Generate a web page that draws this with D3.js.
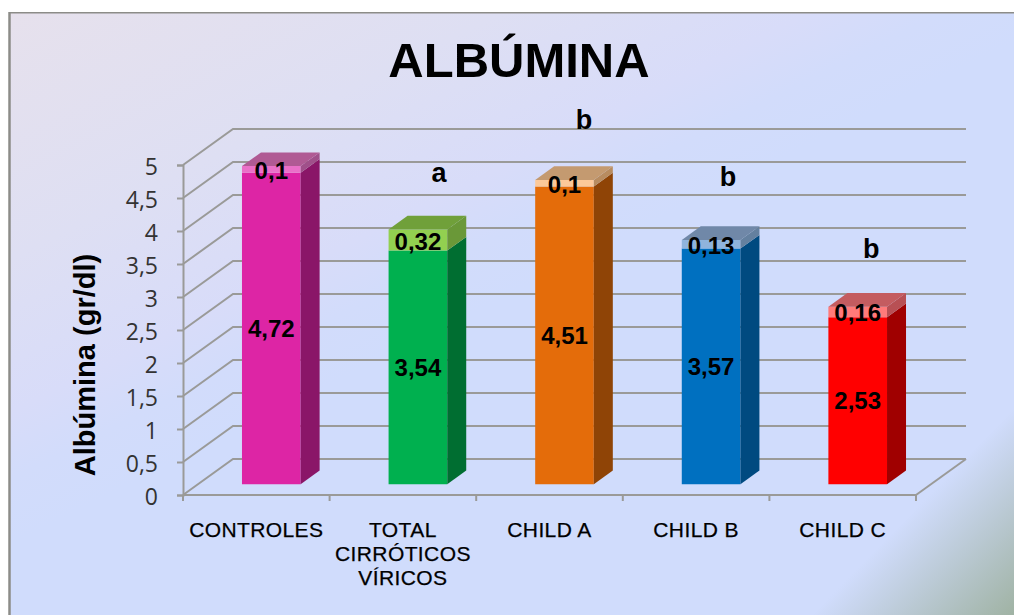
<!DOCTYPE html>
<html><head><meta charset="utf-8">
<script src="https://cdn.jsdelivr.net/npm/d3@7/dist/d3.min.js"></script>
<style>html,body{margin:0;padding:0;background:#fff}svg{display:block}text{font-family:"Liberation Sans",Arial,sans-serif;fill:#000}</style>
</head><body><svg id="c" width="1014" height="615"></svg>
<script>
// Albumin means by patient group, with the standard deviation stacked on top
const categories = ["CONTROLES", "TOTAL|CIRRÓTICOS|VÍRICOS", "CHILD A", "CHILD B", "CHILD C"];
const means = [4.72, 3.54, 4.51, 3.57, 2.53];
const deviations = [0.1, 0.32, 0.1, 0.13, 0.16];
const significance = ["", "a", "b", "b", "b"];
const yTicks = [0, 0.5, 1, 1.5, 2, 2.5, 3, 3.5, 4, 4.5, 5];
const frontColors = ["#dd25a5", "#00b04f", "#e46c0a", "#0070c0", "#ff0000"];
const sideColors = ["#8a1668", "#006e31", "#8f4406", "#004a80", "#a00000"];
const capColors = ["#ea70c8", "#92d050", "#fcc99a", "#8fb4dc", "#ff7a7a"];
const capTopColors = ["#b05a94", "#70a03a", "#c49a70", "#7088a8", "#c45c60"];
const capSideColors = ["#a0508a", "#6a9838", "#b88c60", "#64809f", "#b85054"];

const fmt = v => String(v).replace(".", ",");
const svg = d3.select("#c");

// Page background: a lavender-to-blue wash plus a grey-green corner
const defs = svg.append("defs");
const wash = defs.append("linearGradient").attr("id", "wash")
  .attr("gradientUnits", "userSpaceOnUse")
  .attr("x1", 0).attr("y1", 0).attr("x2", 220).attr("y2", 440);
[[0, "#e7e1ec"], [0.48, "#dedff3"], [0.76, "#d8dcf9"], [0.88, "#d2dcfb"], [1, "#d0dcfc"]]
  .forEach(([o, c]) => wash.append("stop").attr("offset", o).attr("stop-color", c));
const corner = defs.append("linearGradient").attr("id", "corner")
  .attr("gradientUnits", "userSpaceOnUse")
  .attr("x1", 60).attr("y1", -60).attr("x2", 900).attr("y2", 760);
[[0.86, 0], [0.985, 1]].forEach(([o, a]) => corner.append("stop").attr("offset", o)
  .attr("stop-color", "#9fb2a2").attr("stop-opacity", a));
[["url(#wash)"], ["url(#corner)"]].forEach(([f]) => svg.append("rect")
  .attr("x", 9).attr("y", 13).attr("width", 1005).attr("height", 602).attr("fill", f));
svg.append("line").attr("x1", 9.5).attr("x2", 9.5).attr("y1", 12).attr("y2", 615).attr("stroke", "#8c8c88").attr("stroke-width", 2.5);
svg.append("line").attr("x1", 9).attr("x2", 1014).attr("y1", 12.7).attr("y2", 12.7).attr("stroke", "#8c8c88").attr("stroke-width", 1.4);

// Oblique projection: a point at a given depth shifts right and up
const depthX = 50, depthY = 36;
const x = d3.scaleBand().domain(categories).range([183, 916]).paddingInner(0.6).paddingOuter(0.3);
const y = d3.scaleLinear().domain([0, 5]).range([495, 165]);
const px = (xv, depth) => xv + depth * depthX;
const py = (v, depth) => y(v) - depth * depthY;
const barFront = 0.3, barBack = 0.68;
const gridColor = "#9a9a98";

// Walls and floor
const grid = svg.append("g").attr("fill", "none").attr("stroke", gridColor).attr("stroke-width", 2);
yTicks.forEach(t => {
  grid.append("path").attr("d", d3.line()([[183, y(t)], [px(183, 1), py(t, 1)], [px(916, 1), py(t, 1)]]));
});
grid.append("path").attr("d", d3.line()([[px(916, 1), py(0, 1)], [916, y(0)]]));

// Value axis
const yAxis = svg.append("g").attr("transform", "translate(183,0)")
  .call(d3.axisLeft(y).tickValues(yTicks).tickSize(6).tickPadding(19).tickFormat(fmt));
yAxis.selectAll("line,path").attr("stroke", gridColor).attr("stroke-width", 2);
yAxis.selectAll("text").attr("dy", "0.42em")
  .style("font-size", "23px").style("font-family", '"Open Sans",sans-serif').style("fill", "#333");

// Category axis: tick marks sit on the band edges, labels wrap over several lines
const bandStep = x.step();
svg.append("path").attr("d", d3.line()([[183, 495], [916, 495]])).attr("stroke", gridColor).attr("stroke-width", 2);
d3.range(categories.length + 1).forEach(i => {
  svg.append("line").attr("x1", 183 + i * bandStep).attr("x2", 183 + i * bandStep)
    .attr("y1", 495).attr("y2", 501).attr("stroke", gridColor).attr("stroke-width", 2);
});
categories.forEach(c => {
  const t = svg.append("text").attr("text-anchor", "middle").style("font-size", "21px")
    .style("letter-spacing", "0.4px").style("stroke", "#000").style("stroke-width", "0.25px");
  c.split("|").forEach((line, j) => {
    t.append("tspan").attr("x", x(c) + x.bandwidth() / 2).attr("y", 537 + j * 24).text(line);
  });
});

// One 3D stacked column per group
const poly = (g, pts, fill) => g.append("polygon").attr("points", pts.map(p => p.join(",")).join(" ")).attr("fill", fill);
const letterNudge = [null, [21, 3], [19.5, -1], [17, -4], [13.5, 1]];
categories.forEach((c, i) => {
  const g = svg.append("g");
  const l = px(x(c), barFront), r = l + x.bandwidth();
  const dx = (barBack - barFront) * depthX;
  const m = means[i], t = means[i] + deviations[i];
  const yf = v => py(v, barFront), yb = v => py(v, barBack);
  poly(g, [[l, yf(0)], [r, yf(0)], [r, yf(m)], [l, yf(m)]], frontColors[i]);
  poly(g, [[r, yf(0)], [r + dx, yb(0)], [r + dx, yb(m)], [r, yf(m)]], sideColors[i]);
  poly(g, [[l, yf(m)], [r, yf(m)], [r, yf(t)], [l, yf(t)]], capColors[i]);
  poly(g, [[r, yf(m)], [r + dx, yb(m)], [r + dx, yb(t)], [r, yf(t)]], capSideColors[i]);
  poly(g, [[l, yf(t)], [r, yf(t)], [r + dx, yb(t)], [l + dx, yb(t)]], capTopColors[i]);

  const cx = (l + r) / 2;
  const label = (txt, yy) => svg.append("text").attr("x", cx).attr("y", yy).attr("text-anchor", "middle")
    .attr("dominant-baseline", "central").style("font-size", "24px").style("font-weight", "bold").text(txt);
  label(fmt(m), yf(m / 2));
  label(fmt(deviations[i]), yf(m + deviations[i] / 2) + 1);
  if (significance[i]) {
    svg.append("text").attr("x", cx + letterNudge[i][0]).attr("y", yf(t) - 50 + letterNudge[i][1])
      .attr("text-anchor", "middle").style("font-size", "27px").style("font-weight", "bold").text(significance[i]);
  }
});

// Title and value-axis label
svg.append("text").attr("x", 519).attr("y", 77).attr("text-anchor", "middle")
  .style("font-size", "49px").style("font-weight", "bold").text("ALBÚMINA");
svg.append("text").attr("transform", "translate(95,365) rotate(-90)").attr("text-anchor", "middle")
  .style("font-size", "29px").style("font-weight", "bold").text("Albúmina (gr/dl)");
</script></body></html>
